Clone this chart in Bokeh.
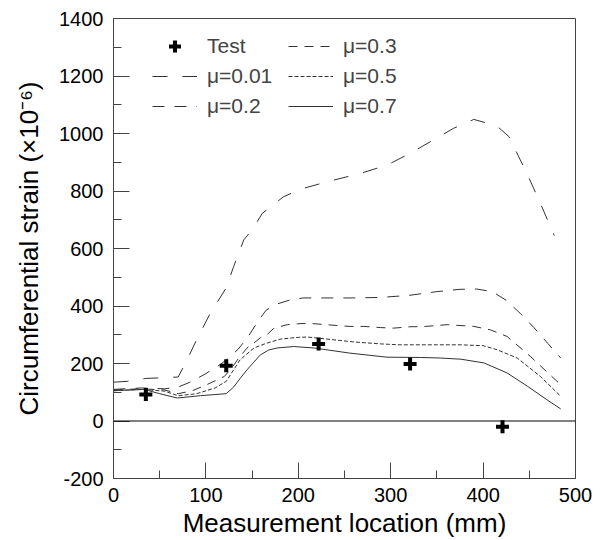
from bokeh.plotting import figure
from bokeh.models import Range1d, FixedTicker, Span, Legend, LegendItem
from bokeh.embed import file_html
from bokeh.resources import INLINE

FONT = "Liberation Sans"

# Test data
x_test = [35, 122, 222, 321, 421]
y_test = [92, 192, 268, 198, -20]

# mu = 0.01
x_001 = [0, 15, 35, 50, 70, 80, 90, 105, 122, 130, 141, 150, 161, 172, 184, 202, 231, 267, 296, 321, 346, 368, 390, 415, 428, 449, 462, 477]
y_001 = [135, 138, 148, 150, 153, 215, 283, 376, 463, 537, 630, 665, 722, 750, 780, 806, 832, 861, 890, 931, 977, 1018, 1049, 1026, 989, 850, 757, 645]

# mu = 0.2
x_02 = [0, 30, 55, 70, 85, 100, 115, 125, 135, 145, 155, 165, 175, 190, 205, 230, 260, 290, 320, 350, 375, 393, 410, 425, 440, 455, 470, 484]
y_02 = [110, 115, 112, 118, 138, 165, 195, 220, 250, 290, 340, 385, 405, 420, 428, 428, 428, 430, 437, 450, 458, 459, 450, 420, 375, 325, 270, 219]

# mu = 0.3
x_03 = [0, 30, 55, 70, 85, 100, 120, 128, 137, 146, 152, 159, 166, 173, 181, 188, 199, 210, 231, 246, 256, 271, 289, 303, 322, 333, 346, 361, 390, 408, 426, 451, 484]
y_03 = [108, 112, 108, 95, 105, 125, 155, 185, 225, 259, 271, 290, 300, 321, 329, 335, 338, 340, 335, 331, 329, 329, 325, 323, 328, 328, 331, 335, 329, 317, 294, 225, 126]

# mu = 0.5
x_05 = [0, 30, 55, 70, 90, 110, 122, 137, 152, 165, 181, 200, 210, 231, 260, 290, 310, 340, 375, 400, 415, 437, 462, 484]
y_05 = [105, 110, 104, 88, 95, 115, 138, 213, 254, 270, 285, 291, 292, 285, 275, 268, 265, 265, 265, 262, 248, 219, 155, 86]

# mu = 0.7
x_07 = [0, 20, 33, 50, 69, 94, 122, 130, 138, 145, 152, 159, 168, 177, 195, 217, 256, 296, 332, 354, 376, 401, 426, 448, 469, 484]
y_07 = [106, 108, 110, 95, 80, 88, 95, 118, 152, 180, 205, 230, 247, 254, 259, 254, 236, 222, 221, 219, 215, 202, 167, 121, 74, 42]

x_ticks = [0, 100, 200, 300, 400, 500]
y_ticks = [-200, 0, 200, 400, 600, 800, 1000, 1200, 1400]
y_tick_labels = {t: str(t) for t in y_ticks}

p = figure(width=593, height=540, output_backend="svg", toolbar_location=None,
           x_range=Range1d(0, 500), y_range=Range1d(-200, 1400),
           min_border_left=113, min_border_right=18, min_border_top=18, min_border_bottom=61)
p.grid.visible = False
p.outline_line_color = "#444444"
p.outline_line_width = 1
p.background_fill_color = "white"
p.border_fill_color = "white"

p.xaxis.ticker = FixedTicker(ticks=x_ticks, minor_ticks=[50, 150, 250, 350, 450])
p.yaxis.ticker = FixedTicker(ticks=y_ticks, minor_ticks=[-100, 100, 300, 500, 700, 900, 1100, 1300])
p.yaxis.major_label_overrides = y_tick_labels

for ax in (p.xaxis, p.yaxis):
    ax.major_tick_in = 16
    ax.major_tick_out = 0
    ax.minor_tick_in = 8
    ax.minor_tick_out = 0
    ax.axis_line_color = "#444444"
    ax.major_tick_line_color = "#444444"
    ax.minor_tick_line_color = "#444444"
    ax.major_label_text_font = FONT
    ax.major_label_text_font_size = "20px"
    ax.major_label_text_color = "black"
    ax.axis_label_text_font = FONT
    ax.axis_label_text_font_size = "26px"
    ax.axis_label_text_font_style = "normal"
    ax.axis_label_text_color = "black"

p.xaxis.axis_label = "Measurement location (mm)"
p.yaxis.axis_label = "Circumferential strain (\u00d710\u207b\u2076)"
p.xaxis.major_label_standoff = 9
p.yaxis.major_label_standoff = 10
p.xaxis.axis_label_standoff = 3
p.yaxis.axis_label_standoff = 12

p.add_layout(Span(location=0, dimension="width", line_color="black", line_width=1))

lc = "#333333"
r001 = p.line(x_001, y_001, line_color=lc, line_width=1, line_dash="15 15")
r02 = p.line(x_02, y_02, line_color=lc, line_width=1, line_dash="12 10")
r03 = p.line(x_03, y_03, line_color=lc, line_width=1, line_dash="9 7")
r05 = p.line(x_05, y_05, line_color=lc, line_width=1, line_dash="4 2")
r07 = p.line(x_07, y_07, line_color=lc, line_width=1)
rt = p.scatter(x_test, y_test, marker="cross", size=13, line_width=4, line_color="black")

common = dict(orientation="vertical", padding=0, margin=0, spacing=0,
              glyph_width=45, glyph_height=30, label_height=30, label_standoff=10,
              label_text_font=FONT, label_text_font_size="21px",
              border_line_color=None, background_fill_alpha=0)
leg1 = Legend(items=[LegendItem(label="Test", renderers=[rt]),
                     LegendItem(label="\u03bc=0.01", renderers=[r001]),
                     LegendItem(label="\u03bc=0.2", renderers=[r02])],
              location=(39, 357), **common)
leg2 = Legend(items=[LegendItem(label="\u03bc=0.3", renderers=[r03]),
                     LegendItem(label="\u03bc=0.5", renderers=[r05]),
                     LegendItem(label="\u03bc=0.7", renderers=[r07])],
              location=(175, 357), **common)
p.add_layout(leg1)
p.add_layout(leg2)

open("out.html", "w").write(file_html(p, INLINE))
